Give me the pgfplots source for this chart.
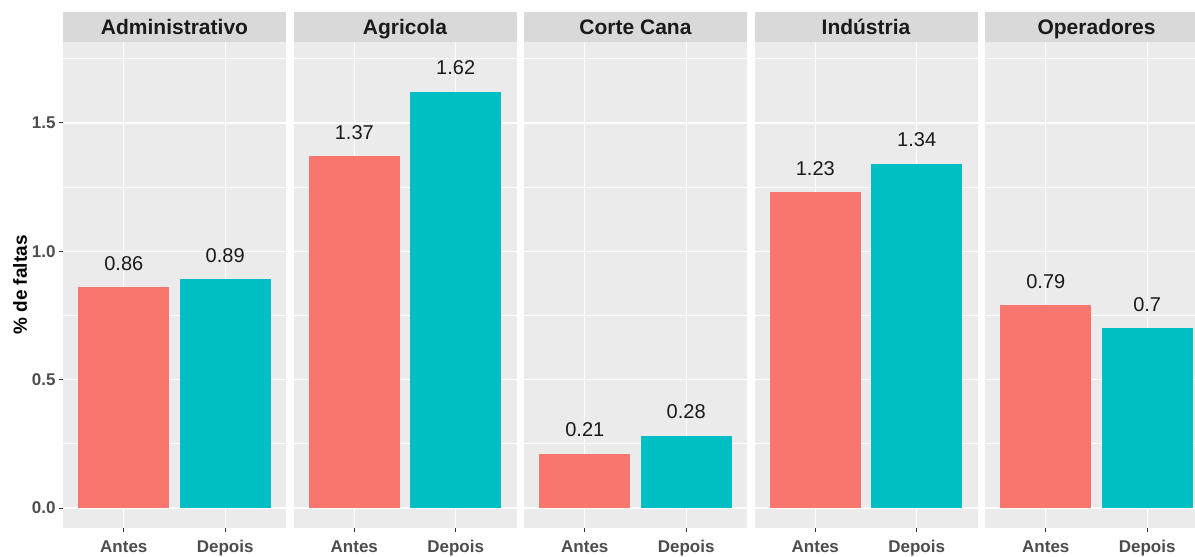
\documentclass[border=0pt]{standalone}
\usepackage{pgfplots}
\pgfplotsset{compat=1.18}
\usepackage{fontspec}
\setmainfont{Liberation Sans}

\definecolor{redbar}{HTML}{F8766D}
\definecolor{tealbar}{HTML}{00BFC4}
\definecolor{panelbg}{HTML}{EBEBEB}
\definecolor{stripbg}{HTML}{D9D9D9}
\definecolor{tickcol}{HTML}{4D4D4D}
\definecolor{tickmark}{HTML}{333333}
\definecolor{labelcol}{HTML}{1A1A1A}

\pgfplotsset{
  panel/.style={
    anchor=south west,
    scale only axis,
    width=223pt, height=486pt,
    xmin=0.4, xmax=2.6,
    ymin=-0.078, ymax=1.815,
    xtick={1,2}, xticklabels={Antes,Depois},
    ytick={0,0.5,1,1.5},
    minor ytick={0.25,0.75,1.25,1.75},
    xmajorgrids, ymajorgrids, yminorgrids,
    major grid style={white, line width=1.3pt},
    minor grid style={white, line width=0.6pt},
    axis background/.style={fill=panelbg},
    axis line style={draw=none},
    tick align=outside,
    xtick pos=bottom, ytick pos=left,
    major tick length=4pt, minor tick length=0pt,
    tick style={draw=tickmark, line width=0.8pt},
    /pgf/number format/assume math mode=true,
    ticklabel style={font=\bfseries\fontsize{17}{17}\selectfont, text=tickcol},
    xticklabel style={yshift=-5pt},
    title style={at={(0.5,1)}, anchor=south, fill=stripbg, inner sep=0pt,
      minimum width=223pt, minimum height=30pt, yshift=-6pt,
      text height=15pt, text depth=0pt,
      font=\bfseries\fontsize{21}{21}\selectfont, text=labelcol},
    ybar, bar width=0.9, bar shift=0pt,
    nodes near coords,
    nodes near coords style={anchor=center, yshift=24pt,
      font=\fontsize{20}{20}\selectfont, text=labelcol,
      /pgf/number format/assume math mode=true},
    every axis plot/.append style={draw=none},
  },
  inner/.style={yticklabels={}, ytick style={draw=none}},
}

\begin{document}
\begin{tikzpicture}
\path[use as bounding box] (0pt,0pt) rectangle (1195pt,-557pt);
\clip (0pt,0pt) rectangle (1195pt,-557pt);

\begin{axis}[panel, at={(63pt,-528pt)}, title={Administrativo},
  yticklabels={0.0,0.5,1.0,1.5},
  ylabel={\% de faltas},
  ylabel style={at={(axis description cs:-0.193,0.5)}, anchor=center,
    font=\bfseries\fontsize{19}{19}\selectfont, text=black}]
  \addplot[fill=redbar] coordinates {(1,0.86)};
  \addplot[fill=tealbar] coordinates {(2,0.89)};
\end{axis}

\begin{axis}[panel, inner, at={(293.5pt,-528pt)}, title={Agricola}]
  \addplot[fill=redbar] coordinates {(1,1.37)};
  \addplot[fill=tealbar] coordinates {(2,1.62)};
\end{axis}

\begin{axis}[panel, inner, at={(524pt,-528pt)}, title={Corte Cana}]
  \addplot[fill=redbar] coordinates {(1,0.21)};
  \addplot[fill=tealbar] coordinates {(2,0.28)};
\end{axis}

\begin{axis}[panel, inner, at={(754.5pt,-528pt)}, title={Indústria}]
  \addplot[fill=redbar] coordinates {(1,1.23)};
  \addplot[fill=tealbar] coordinates {(2,1.34)};
\end{axis}

\begin{axis}[panel, inner, at={(985pt,-528pt)}, title={Operadores}]
  \addplot[fill=redbar] coordinates {(1,0.79)};
  \addplot[fill=tealbar] coordinates {(2,0.7)};
\end{axis}
\end{tikzpicture}
\end{document}
